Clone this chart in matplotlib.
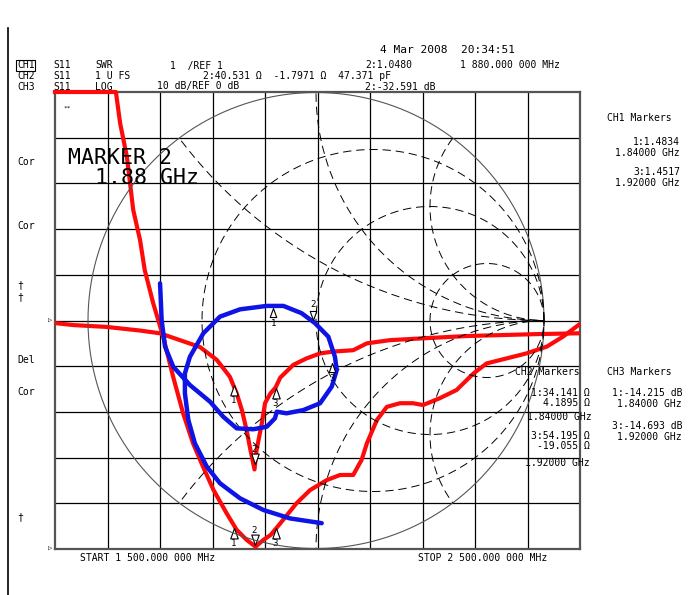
import numpy as np
import matplotlib.pyplot as plt
from matplotlib.path import Path
from matplotlib.lines import Line2D

plt.rcParams["lines.scale_dashes"] = False
plt.rcParams["font.family"] = ["DejaVu Sans Mono", "DejaVu Sans"]

W, H = 694, 595

# CH1: S11 SWR, sweep 1500..2500 MHz
swr_freq = [1500, 1616, 1624, 1637, 1649, 1662, 1671, 1687, 1706, 1725, 1744, 1763,
            1782, 1802, 1827, 1846, 1865, 1882, 1897, 1911, 1929, 1960, 1986, 2018,
            2043, 2068, 2084, 2094, 2113, 2132, 2157, 2182, 2201, 2233, 2265, 2297,
            2322, 2360, 2398, 2437, 2468, 2497]
swr_vals = [11.0, 11.0, 10.32, 9.58, 8.42, 7.76, 7.10, 6.38, 5.65, 4.77, 3.97, 3.31,
            2.80, 2.29, 1.78, 1.42, 1.20, 1.05, 1.20, 1.31, 1.56, 2.00, 2.29, 2.51,
            2.62, 2.62, 2.95, 3.31, 3.82, 4.11, 4.19, 4.19, 4.15, 4.30, 4.48, 4.84,
            5.06, 5.17, 5.28, 5.43, 5.65, 5.90]

# CH3: S11 log magnitude (dB)
log_freq = [1503, 1535, 1598, 1662, 1700, 1738, 1776, 1808, 1833, 1846, 1856, 1865,
            1871, 1880, 1884, 1894, 1900, 1910, 1920, 1929, 1954, 1979, 2005, 2030,
            2068, 2094, 2138, 2201, 2284, 2348, 2410, 2496]
log_db = [-0.6, -1.0, -1.4, -2.2, -2.8, -4.3, -5.8, -8.6, -12.3, -15.9, -19.6, -24.0,
          -27.6, -32.6, -28.3, -22.5, -18.1, -16.0, -14.7, -12.5, -9.7, -8.3, -7.2, -6.8,
          -6.5, -5.0, -4.3, -3.9, -3.4, -3.2, -3.0, -2.8]

# CH2: S11 Smith chart (reflection coefficient)
smith_re = [-0.684, -0.677, -0.662, -0.626, -0.553, -0.465, -0.407, -0.348, -0.275,
            -0.216, -0.180, -0.172, -0.129, -0.056, 0.018, 0.069, 0.091, 0.083, 0.054,
            -0.004, -0.063, -0.143, -0.216, -0.333, -0.421, -0.494, -0.553, -0.575,
            -0.575, -0.560, -0.531, -0.479, -0.421, -0.333, -0.231, -0.114, 0.025]
smith_im = [0.163, 0.002, -0.115, -0.203, -0.283, -0.356, -0.422, -0.473, -0.477,
            -0.466, -0.429, -0.400, -0.407, -0.393, -0.363, -0.290, -0.217, -0.159,
            -0.071, -0.012, 0.032, 0.064, 0.064, 0.049, 0.017, -0.056, -0.159, -0.232,
            -0.319, -0.436, -0.539, -0.641, -0.714, -0.780, -0.831, -0.868, -0.889]

# markers 1, 2, 3
mk_freq = [1840, 1880, 1920]
mk_swr = [1.46, 1.08, 1.46]
mk_db = [-14.1, -31.5, -14.8]
mk_sm_re = [-0.188, -0.013, 0.070]
mk_sm_im = [0.055, 0.002, -0.186]

red = "#ff0a0a"
blue = "#0f14e6"

fig = plt.figure(figsize=(W / 100, H / 100), dpi=100)
fig.patch.set_facecolor("white")

L, R, T, B = 55, 580, 92, 549
pos = [L / W, 1 - B / H, (R - L) / W, (B - T) / H]

ax = fig.add_axes(pos)
ax.set_xlim(1500, 2500)
ax.set_ylim(1, 11)
ax.set_xticks([])
ax.set_yticks([])
for s in ax.spines.values():
    s.set_color("#555555")
    s.set_linewidth(1.6)
for i in range(1, 10):
    ax.axvline(1500 + 100 * i, color="black", lw=0.9, zorder=1)
    ax.axhline(1 + i, color="black", lw=0.9, zorder=1)

ax_db = fig.add_axes(pos, frameon=False)
ax_db.set_xlim(1500, 2500)
ax_db.set_ylim(-50, 50)
ax_db.set_xticks([])
ax_db.set_yticks([])

ax_sm = fig.add_axes(pos, frameon=False)
ax_sm.set_xlim((L - 316) / 228, (R - 316) / 228)
ax_sm.set_ylim(-(B - 320.5) / 228, (320.5 - T) / 228)
ax_sm.set_xticks([])
ax_sm.set_yticks([])

# Smith graticule
t = np.linspace(0, 2 * np.pi, 720)
ax_sm.plot(np.cos(t), np.sin(t), color="#555555", lw=0.8, zorder=2)
for r in [1 / 3, 1, 3]:
    c, rad = r / (1 + r), 1 / (1 + r)
    ax_sm.plot(c + rad * np.cos(t), rad * np.sin(t), color="black", lw=0.7,
               dashes=(6, 3.5), zorder=2)
for xv in [0.5, 1, 2]:
    for sgn in [1, -1]:
        cx, cy, rad = 1.0, sgn / xv, 1 / xv
        xs = cx + rad * np.cos(t)
        ys = cy + rad * np.sin(t)
        inside = xs ** 2 + ys ** 2 <= 1.0005
        xs = np.where(inside, xs, np.nan)
        ys = np.where(inside, ys, np.nan)
        ax_sm.plot(xs, ys, color="black", lw=0.7, dashes=(6, 3.5), zorder=2)

# traces
ax_sm.plot(smith_re, smith_im, color=blue, lw=3.2, solid_capstyle="round",
           solid_joinstyle="round", zorder=5)
ax_db.plot(log_freq, log_db, color=red, lw=3, solid_joinstyle="round", zorder=6)
ax.plot(swr_freq, swr_vals, color=red, lw=3, solid_joinstyle="round", zorder=6,
        clip_on=False)

# marker triangles (apex at the trace)
tri_up = Path([(0, 0), (-0.36, -1), (0.36, -1), (0, 0)],
              [Path.MOVETO, Path.LINETO, Path.LINETO, Path.CLOSEPOLY])
tri_dn = Path([(0, 0), (-0.36, 1), (0.36, 1), (0, 0)],
              [Path.MOVETO, Path.LINETO, Path.LINETO, Path.CLOSEPOLY])


def draw_markers(a, xs, ys, ms=15):
    for k, (x, y) in enumerate(zip(xs, ys)):
        up = k != 1
        a.plot([x], [y], marker=tri_up if up else tri_dn, ms=ms, mfc="white",
               mec="black", mew=0.8, ls="none", zorder=8, clip_on=False)
        a.annotate(str(k + 1), (x, y), xytext=(0, -11 if up else 11),
                   textcoords="offset points", ha="center", va="center",
                   fontsize=6.5, zorder=9)


draw_markers(ax, mk_freq, mk_swr)
draw_markers(ax_db, mk_freq, mk_db)
draw_markers(ax_sm, mk_sm_re, mk_sm_im, ms=13)


def put(x, y, s, size=7, ha="left", **kw):
    fig.text(x / W, 1 - y / H, s, fontsize=size, ha=ha, va="center", **kw)


# header
rows = [65.5, 76, 86.5]
put(380, 50, "4 Mar 2008  20:34:51", size=8)
put(17, rows[0], "CH1", bbox=dict(boxstyle="square,pad=0.08", fc="none", ec="black", lw=0.8))
put(17, rows[1], "CH2")
put(17, rows[2], "CH3")
for yy in rows:
    put(53, yy, "S11")
put(95, rows[0], "SWR")
put(95, rows[1], "1 U FS")
put(95, rows[2], "LOG")
put(170, rows[0], "1  /REF 1")
put(203, rows[1], "2:40.531 \u03a9  -1.7971 \u03a9  47.371 pF")
put(157, rows[2], "10 dB/REF 0 dB")
put(365, rows[0], "2:1.0480")
put(460, rows[0], "1 880.000 000 MHz")
put(365, rows[2], "2:-32.591 dB")

# left softkey labels
for yy, s in [(162, "Cor"), (226, "Cor"), (285, "\u2020"), (297, "\u2020"),
              (360, "Del"), (392, "Cor"), (517, "\u2020")]:
    put(17, yy, s, size=7)
put(50, 321, "\u25b7", size=5, ha="center")
put(50, 549, "\u25b7", size=5, ha="center")
put(63, 108, "**", size=4.5)

# big marker readout
put(68, 158, "MARKER 2", size=15.5)
put(95, 178, "1.88 GHz", size=15.5)

# marker tables
put(607, 118, "CH1 Markers")
put(680, 142, "1:1.4834", ha="right")
put(680, 153, "1.84000 GHz", ha="right")
put(680, 172, "3:1.4517", ha="right")
put(680, 183, "1.92000 GHz", ha="right")

put(515, 372, "CH2 Markers")
put(590, 393, "1:34.141 \u03a9", ha="right")
put(590, 403, "4.1895 \u03a9", ha="right")
put(592, 417, "1.84000 GHz", ha="right")
put(590, 436, "3:54.195 \u03a9", ha="right")
put(590, 446, "-19.055 \u03a9", ha="right")
put(590, 462.5, "1.92000 GHz", ha="right")

put(607, 372, "CH3 Markers")
put(683, 393, "1:-14.215 dB", ha="right")
put(682, 404, "1.84000 GHz", ha="right")
put(683, 426, "3:-14.693 dB", ha="right")
put(682, 437, "1.92000 GHz", ha="right")

# footer
put(80, 558, "START 1 500.000 000 MHz", size=7)
put(418, 558, "STOP 2 500.000 000 MHz", size=7)

# screen border on the left
fig.add_artist(Line2D([8 / W, 8 / W], [0, 1 - 28 / H], color="black", lw=1.2))

fig.savefig("out.png", dpi=100)
